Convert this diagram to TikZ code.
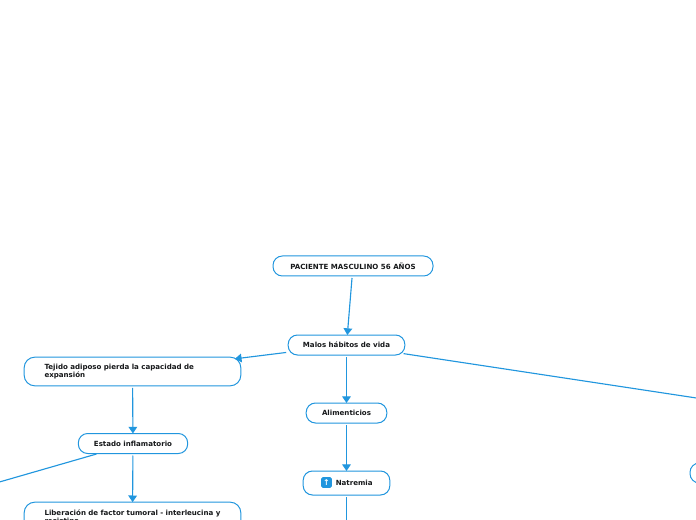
\documentclass[tikz,border=0pt]{standalone}
\usepackage{fontspec}
\setmainfont{DejaVu Sans}
\usetikzlibrary{arrows.meta}
\definecolor{mapblue}{HTML}{2196DE}
\definecolor{mapink}{HTML}{16181A}

\begin{document}
\begin{tikzpicture}[
  x=0.75pt, y=-0.75pt,
  font=\fontsize{5.3pt}{6.4pt}\selectfont\bfseries,
  topic/.style={draw=mapblue, fill=white, rounded corners=7pt, line width=0.75pt,
                text=mapink, minimum height=15pt, inner xsep=0pt, inner ysep=0pt, outer sep=0pt, align=center},
  widetopic/.style={topic, minimum width=162.5pt, minimum height=21.5pt, rounded corners=8pt,
                    align=left, text width=132pt},
  link/.style={-{Triangle[length=5pt, width=6.5pt]}, line width=0.85pt, mapblue, shorten <=1.5pt},
  plainlink/.style={line width=0.85pt, mapblue, shorten <=1.5pt},
  iconbox/.style={fill=mapblue, rounded corners=1.2pt, minimum size=8pt, inner sep=0pt,
                  text=white, font=\fontsize{6pt}{6pt}\selectfont\bfseries},
]
  \useasboundingbox (0,0) rectangle (696,520);
  \clip (0,0) rectangle (696,520);

  % --- free ends outside the frame ---
  \coordinate (offRight) at (736,404);
  \coordinate (offLeft) at (-20,487.6);
  \coordinate (offDown) at (346.5,540);

  % --- topics ---
  \node[topic, minimum width=120pt] (nRoot) at (353,266) {PACIENTE MASCULINO 56 AÑOS};
  \node[topic, minimum width=87.5pt] (nHabitos) at (346.5,345) {Malos hábitos de vida};
  \node[widetopic] (nTejido) at (132.5,371.5) {Tejido adiposo pierda la capacidad de\\expansión};
  \node[topic, minimum width=82pt] (nEstado) at (133,443.5) {Estado inflamatorio};
  \node[widetopic] (nLibera) at (132.5,516.5) {Liberación de factor tumoral - interleucina y\\resistina};
  \node[topic, minimum width=60.5pt] (nAlimento) at (346.5,413) {Alimenticios};
  \node[topic, minimum width=65pt, minimum height=18pt] (nNatremia) at (346.5,483) {};
  \node[iconbox] (iUp) at (326.5,482.5) {↑};
  \node[anchor=west, text=mapink, inner sep=0pt] (tNatremia) at (335.5,482.5) {Natremia};
  \node[topic, minimum width=60pt] (nRight) at (730,473) {};

  % --- connections ---
  \draw[link] (nRoot) -- (nHabitos);
  \draw[link, shorten >=-4.5pt] (nHabitos) -- (nTejido);
  \draw[link] (nHabitos) -- (nAlimento);
  \draw[plainlink, shorten <=-1pt] (nHabitos) -- (offRight);
  \draw[link] (nTejido) -- (nEstado);
  \draw[link] (nEstado) -- (nLibera);
  \draw[plainlink] (nEstado) -- (offLeft);
  \draw[link] (nAlimento) -- (nNatremia);
  \draw[plainlink] (nNatremia) -- (offDown);
\end{tikzpicture}
\end{document}
